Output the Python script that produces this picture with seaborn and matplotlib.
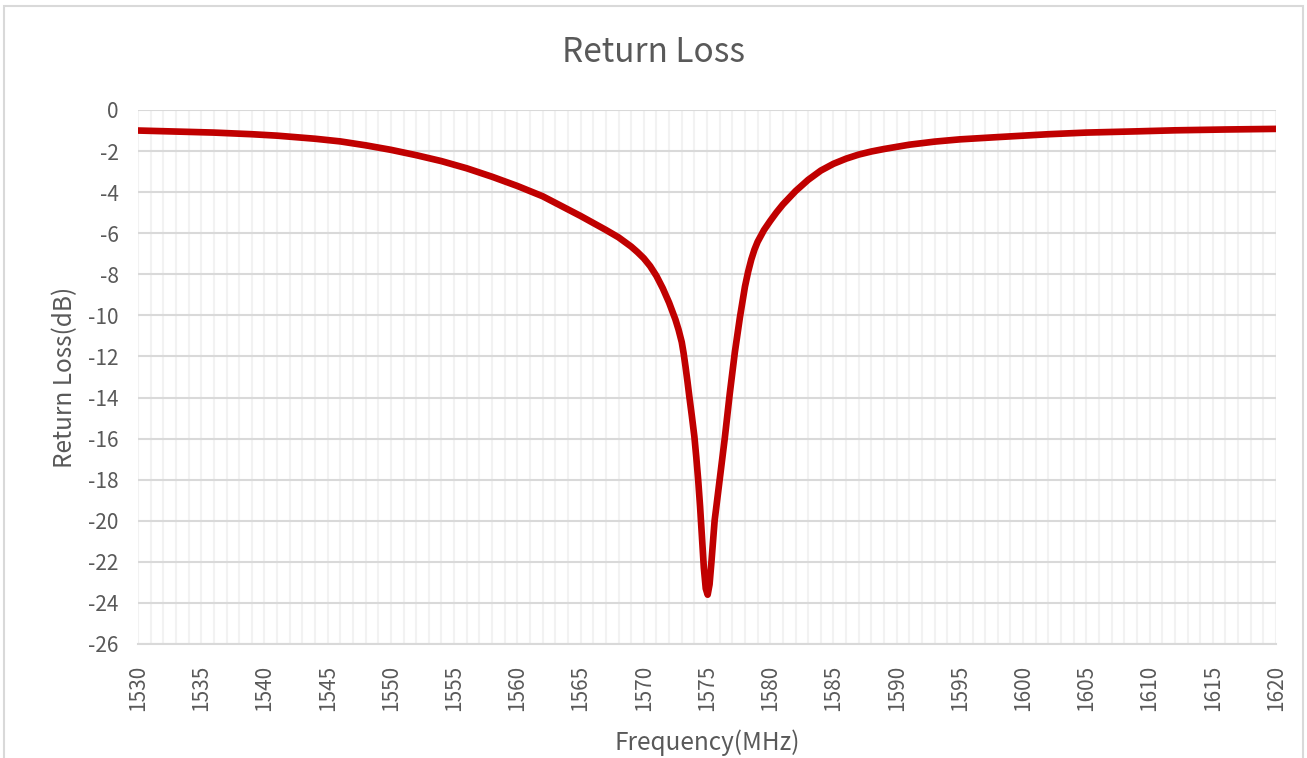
import matplotlib
matplotlib.use("Agg")
import matplotlib.pyplot as plt
from matplotlib.patches import Rectangle
from matplotlib.ticker import MultipleLocator, FuncFormatter
import pandas as pd
import seaborn as sns

# values
freq_mhz = [1530, 1533, 1536, 1539, 1541, 1544, 1546, 1548, 1550, 1552, 1554,
            1556, 1558, 1560, 1562, 1564, 1565, 1566, 1567, 1568, 1569, 1569.5,
            1570, 1570.5, 1571, 1571.5, 1572, 1572.5, 1572.75, 1573, 1573.15,
            1573.3, 1573.45, 1573.6, 1573.8, 1574, 1574.15, 1574.3, 1574.45,
            1574.6, 1574.75, 1574.9, 1575.05, 1575.2, 1575.35, 1575.6, 1576,
            1576.4, 1576.8, 1577.2, 1577.6, 1578, 1578.25, 1578.5, 1578.75,
            1579, 1579.5, 1580, 1580.5, 1581, 1582, 1583, 1584, 1585, 1586,
            1587, 1588, 1589, 1591, 1593, 1595, 1598, 1602, 1605, 1609, 1612,
            1616, 1620]
return_loss_db = [-1.0, -1.05, -1.1, -1.18, -1.25, -1.4, -1.53, -1.72, -1.94,
                  -2.2, -2.49, -2.84, -3.25, -3.7, -4.2, -4.84, -5.16, -5.5,
                  -5.84, -6.2, -6.65, -6.92, -7.22, -7.6, -8.08, -8.68, -9.38,
                  -10.2, -10.7, -11.3, -11.85, -12.5, -13.2, -13.95, -14.9,
                  -15.9, -16.9, -18.0, -19.3, -20.8, -22.3, -23.3, -23.6,
                  -23.1, -22.0, -20.0, -18.0, -16.0, -13.8, -11.8, -10.1, -8.6,
                  -7.88, -7.28, -6.8, -6.42, -5.85, -5.4, -4.98, -4.6, -3.95,
                  -3.4, -2.95, -2.62, -2.37, -2.17, -2.02, -1.9, -1.69, -1.54,
                  -1.43, -1.32, -1.18, -1.1, -1.04, -0.99, -0.95, -0.92]

title = "Return Loss"
x_label = "Frequency(MHz)"
y_label = "Return Loss(dB)"

df = pd.DataFrame({"freq": freq_mhz, "rl": return_loss_db})

sns.set_style("white")
plt.rcParams['font.family'] = ['Noto Sans CJK SC', 'DejaVu Sans']
plt.rcParams['axes.unicode_minus'] = False

text_color = "#595959"

fig = plt.figure(figsize=(13.07, 7.58), dpi=100)
ax = fig.add_axes([0.1056, 0.1504, 0.8707, 0.7045])

sns.lineplot(data=df, x="freq", y="rl", ax=ax, color="#C00000", linewidth=4.8,
             solid_capstyle="round", solid_joinstyle="round", zorder=5)

ax.set_xlim(1530, 1620)
ax.set_ylim(-26, 0)
ax.xaxis.set_major_locator(MultipleLocator(5))
ax.xaxis.set_minor_locator(MultipleLocator(1))
ax.yaxis.set_major_locator(MultipleLocator(2))
ax.yaxis.set_major_formatter(FuncFormatter(lambda v, p: "%d" % round(v)))

ax.grid(which="minor", axis="x", color="#F2F2F2", linewidth=1.5, zorder=0)
ax.grid(which="major", axis="x", color="#F2F2F2", linewidth=1.5, zorder=0)
ax.grid(which="major", axis="y", color="#D9D9D9", linewidth=1.5, zorder=1)
ax.set_axisbelow(True)

for side in ["left", "right", "top"]:
    ax.spines[side].set_visible(False)
ax.spines["bottom"].set_color("#D9D9D9")
ax.spines["bottom"].set_linewidth(1.5)

ax.tick_params(axis="both", which="both", length=0, colors=text_color, labelsize=15)
ax.tick_params(axis="y", pad=14)
ax.tick_params(axis="x", pad=15)
plt.setp(ax.get_xticklabels(), rotation=90)

ax.set_xlabel(x_label, fontsize=17.5, color=text_color, labelpad=13)
ax.set_ylabel(y_label, fontsize=17.5, color=text_color, labelpad=7)
fig.text(0.5, 0.931, title, ha="center", va="center", fontsize=24, color=text_color)

fig.patches.append(Rectangle((4 / 1307, -0.01), 1299 / 1307, 1 - 6 / 758 + 0.01,
                             transform=fig.transFigure, fill=False,
                             edgecolor="#D9D9D9", linewidth=1.5))

fig.savefig("out.png", dpi=100)
plt.close("all")
